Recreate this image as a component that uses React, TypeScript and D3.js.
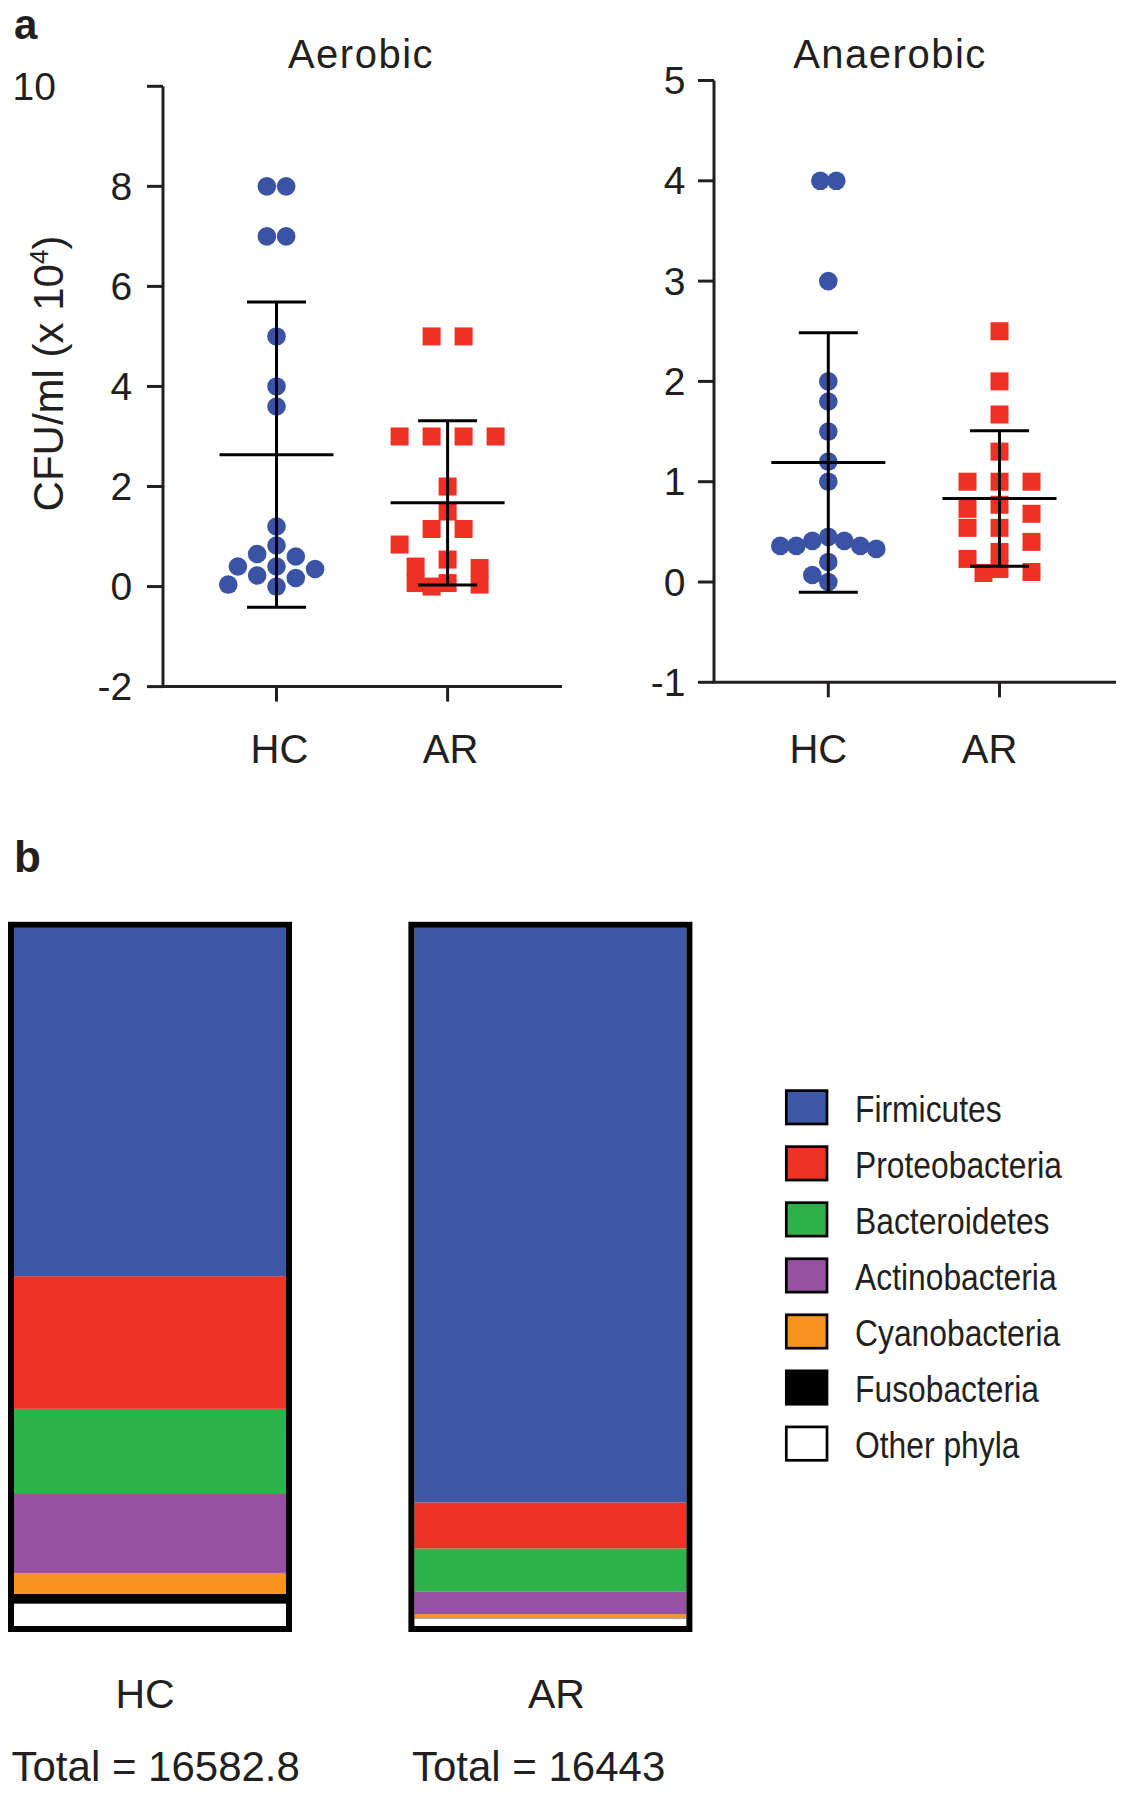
import React from "react";
import * as d3 from "d3";

// ---------- data ----------
const groups = ["HC", "AR"];

const aerobicHC = [8, 8, 7, 7, 5, 4, 3.6, 1.2, 0.82, 0.65, 0.6, 0.4, 0.4, 0.35, 0.22, 0.17, 0.04, 0];
const aerobicAR = [5, 5, 3, 3, 3, 3, 2, 1.5, 1.15, 1.15, 0.84, 0.54, 0.4, 0.37, 0.07, 0.07, 0.04, 0];
const anaerobicHC = [4, 4, 3, 2, 1.8, 1.5, 1.2, 1.0, 0.45, 0.41, 0.41, 0.36, 0.36, 0.36, 0.33, 0.2, 0.07, 0];
const anaerobicAR = [2.5, 2.0, 1.67, 1.3, 1.0, 1.0, 1.0, 0.77, 0.73, 0.68, 0.54, 0.54, 0.4, 0.3, 0.23, 0.13, 0.1, 0.09];

const aerobicTicks = [-2, 0, 2, 4, 6, 8, 10];
const anaerobicTicks = [-1, 0, 1, 2, 3, 4, 5];

const phyla = ["Firmicutes", "Proteobacteria", "Bacteroidetes", "Actinobacteria", "Cyanobacteria", "Fusobacteria", "Other phyla"];
const phylumColors = ["#3D58A7", "#EE3324", "#2FB14B", "#9652A1", "#F7941D", "#000000", "#FFFFFF"];
const hcAbundance = [49.9, 19.0, 12.2, 11.3, 3.0, 1.4, 3.2];
const arAbundance = [82.3, 6.6, 6.2, 3.2, 0.5, 0.1, 1.1];
const totals = [16582.8, 16443];

// ---------- style ----------
const FONT = "'Liberation Sans', Arial, Helvetica, sans-serif";
const INK = "#231F20";
const BLUE = "#3A53A4";
const RED = "#EE3124";

type Pt = { x: number; y: number; v: number };

function swarm(values: number[], y: (v: number) => number, step: number, minDist: number, square: boolean, maxSteps: number): Pt[] {
  const sorted = [...values].sort((a, b) => b - a);
  const grouped: number[][] = [];
  for (const v of sorted) {
    const g = grouped[grouped.length - 1];
    if (g && g[0] === v) g.push(v);
    else grouped.push([v]);
  }
  const placed: Pt[] = [];
  const overlap = (x: number, yy: number) => {
    let worst = 0;
    for (const q of placed) {
      let o = 0;
      if (square) {
        const ox = minDist - Math.abs(q.x - x);
        const oy = minDist - Math.abs(q.y - yy);
        o = ox > 0 && oy > 0 ? Math.min(ox, oy) : 0;
      } else {
        o = Math.max(0, minDist - Math.hypot(q.x - x, q.y - yy));
      }
      worst = Math.max(worst, o);
    }
    return worst;
  };
  const shifts = (k: number) =>
    d3.range(k).map((i) => (i === 0 ? 0 : (i % 2 ? -1 : 1) * Math.ceil(i / 2)) * step);
  for (const g of grouped) {
    const yy = y(g[0]);
    const base = g.map((_, i) => (i - (g.length - 1) / 2) * 2 * step);
    let done = false;
    if (g.length > 1) {
      for (const s of shifts(3)) {
        const xs = base.map((b) => b + s);
        if (xs.every((x) => overlap(x, yy) === 0)) {
          xs.forEach((x) => placed.push({ x, y: yy, v: g[0] }));
          done = true;
          break;
        }
      }
    }
    if (!done) {
      for (const v of g) {
        const cands = shifts(2 * maxSteps + 1);
        let best = cands[0];
        let bestO = Infinity;
        for (const s of cands) {
          const o = overlap(s, yy);
          if (o < bestO - 1e-9) {
            bestO = o;
            best = s;
          }
          if (o === 0) break;
        }
        placed.push({ x: best, y: yy, v });
      }
    }
  }
  return placed;
}

type PanelProps = {
  title: string;
  data: number[][];
  domain: [number, number];
  ticks: number[];
  yRange: [number, number];
  axisX: number;
  axisEnd: number;
  xRange: [number, number];
  titleX: number;
  tickLabelRight: number;
  topLabelRight: number;
  labelDx: number;
  circleStep: number;
  circleMin: number;
  circleMaxSteps: number;
};

function ScatterPanel(p: PanelProps) {
  const y = d3.scaleLinear().domain(p.domain).range(p.yRange);
  const x = d3.scalePoint().domain(groups).range(p.xRange);
  const yBottom = p.yRange[0];
  const yTop = p.yRange[1];
  const r = 9.3;
  const sq = 18;
  const hcPts = swarm(p.data[0], y, p.circleStep, p.circleMin, false, p.circleMaxSteps);
  const arPts = swarm(p.data[1], y, 16, 17, true, 3);
  const stats = p.data.map((d) => ({ m: d3.mean(d) as number, s: d3.deviation(d) as number }));
  const topTick = p.ticks[p.ticks.length - 1];
  return (
    <g>
      <text x={p.titleX} y={68} textAnchor="middle" fontSize={40} letterSpacing={1.5} fill={INK} fontFamily={FONT}>
        {p.title}
      </text>
      {/* y axis */}
      <line x1={p.axisX} x2={p.axisX} y1={yTop} y2={yBottom} stroke={INK} strokeWidth={3} />
      {p.ticks.map((t) => (
        <g key={t}>
          <line x1={p.axisX - 16} x2={p.axisX} y1={y(t)} y2={y(t)} stroke={INK} strokeWidth={3} />
          <text
            x={t === topTick ? p.topLabelRight : p.tickLabelRight}
            y={y(t)}
            dy="0.35em"
            textAnchor="end"
            fontSize={39}
            fill={INK}
            fontFamily={FONT}
          >
            {t}
          </text>
        </g>
      ))}
      {/* x axis */}
      <line x1={p.axisX - 1.5} x2={p.axisEnd} y1={yBottom} y2={yBottom} stroke={INK} strokeWidth={3} />
      {groups.map((g) => (
        <g key={g}>
          <line x1={x(g)} x2={x(g)} y1={yBottom} y2={yBottom + 15} stroke={INK} strokeWidth={3} />
          <text x={(x(g) as number) + p.labelDx} y={763} textAnchor="middle" fontSize={40} fill={INK} fontFamily={FONT}>
            {g}
          </text>
        </g>
      ))}
      {/* points */}
      {hcPts.map((q, i) => (
        <circle key={"c" + i} cx={(x("HC") as number) + q.x} cy={q.y} r={r} fill={BLUE} />
      ))}
      {arPts.map((q, i) => (
        <rect key={"s" + i} x={(x("AR") as number) + q.x - sq / 2} y={q.y - sq / 2} width={sq} height={sq} fill={RED} />
      ))}
      {/* mean ± SD */}
      {groups.map((g, i) => {
        const cx = x(g) as number;
        const { m, s } = stats[i];
        return (
          <g key={"e" + g} stroke="#000" strokeWidth={3}>
            <line x1={cx} x2={cx} y1={y(m - s)} y2={y(m + s)} />
            <line x1={cx - 29.5} x2={cx + 29.5} y1={y(m + s)} y2={y(m + s)} />
            <line x1={cx - 29.5} x2={cx + 29.5} y1={y(m - s)} y2={y(m - s)} />
            <line x1={cx - 57} x2={cx + 57} y1={y(m)} y2={y(m)} />
          </g>
        );
      })}
    </g>
  );
}

function BarPanel() {
  const x = d3.scalePoint().domain(groups).range([150, 550.4]);
  const y = d3.scaleLinear().domain([0, 100]).range([1626, 927.8]);
  const rows = groups.map((g, gi) => {
    const vals = gi === 0 ? hcAbundance : arAbundance;
    const o: Record<string, any> = { group: g };
    phyla.forEach((ph, i) => (o[ph] = vals[i]));
    return o;
  });
  const keys = [...phyla].reverse();
  const stack = d3.stack<any>().keys(keys)(rows);
  const boxW = 278;
  const inner = boxW - 6;
  const labelDx = [-5, 6];
  return (
    <g>
      {stack.map((layer) => {
        const ci = phyla.indexOf(layer.key);
        return layer.map((seg, gi) => {
          const cx = x(groups[gi]) as number;
          return (
            <rect
              key={layer.key + gi}
              x={cx - inner / 2}
              y={y(seg[1])}
              width={inner}
              height={Math.max(0, y(seg[0]) - y(seg[1]))}
              fill={phylumColors[ci]}
            />
          );
        });
      })}
      {groups.map((g, gi) => {
        const cx = x(g) as number;
        return (
          <g key={"b" + g}>
            <rect x={cx - boxW / 2} y={924.8} width={boxW} height={704.2} fill="none" stroke="#000" strokeWidth={6} />
            <text x={cx + labelDx[gi]} y={1708} textAnchor="middle" fontSize={41} fill={INK} fontFamily={FONT}>
              {g}
            </text>
            <text x={cx - boxW / 2 + 0.5} y={1781} textAnchor="start" fontSize={42} fill={INK} fontFamily={FONT}>
              {`Total = ${totals[gi]}`}
            </text>
          </g>
        );
      })}
      {/* legend */}
      {phyla.map((ph, i) => {
        const top = 1089.3 + i * 56.05;
        return (
          <g key={"l" + ph}>
            <rect x={786.3} y={top + 1.3} width={40.7} height={33.4} fill={phylumColors[i]} stroke="#000" strokeWidth={2.7} />
            <g transform={`translate(855, ${top + 32.5}) scale(0.86, 1)`}>
              <text x={0} y={0} fontSize={37} fill={INK} fontFamily={FONT}>
                {ph}
              </text>
            </g>
          </g>
        );
      })}
    </g>
  );
}

export default function App() {
  return (
    <svg
      width={1125}
      height={1800}
      viewBox="0 0 1125 1800"
      style={{ position: "absolute", left: 0, top: 0, background: "#fff", display: "block" }}
    >
      <rect x={0} y={0} width={1125} height={1800} fill="#fff" />
      <text x={14} y={39} fontSize={42} fontWeight="bold" fill={INK} fontFamily={FONT}>
        a
      </text>
      <text x={14} y={872} fontSize={44} fontWeight="bold" fill={INK} fontFamily={FONT}>
        b
      </text>
      <text transform="translate(63, 373.5) rotate(-90)" textAnchor="middle" fontSize={42} fill={INK} fontFamily={FONT}>
        <tspan>CFU/ml (x 10</tspan>
        <tspan fontSize={26} dy={-15}>4</tspan>
        <tspan dy={15}>)</tspan>
      </text>
      <ScatterPanel
        title="Aerobic"
        data={[aerobicHC, aerobicAR]}
        domain={[-2, 10]}
        ticks={aerobicTicks}
        yRange={[686.6, 86.3]}
        axisX={163}
        axisEnd={562}
        xRange={[276.5, 447.6]}
        titleX={361}
        tickLabelRight={132.3}
        topLabelRight={56}
        labelDx={3}
        circleStep={9.65}
        circleMin={18.5}
        circleMaxSteps={5}
      />
      <ScatterPanel
        title="Anaerobic"
        data={[anaerobicHC, anaerobicAR]}
        domain={[-1, 5]}
        ticks={anaerobicTicks}
        yRange={[682.3, 80.5]}
        axisX={714}
        axisEnd={1116}
        xRange={[828.3, 999.5]}
        titleX={890}
        tickLabelRight={685.5}
        topLabelRight={685.5}
        labelDx={-10}
        circleStep={8}
        circleMin={16}
        circleMaxSteps={6}
      />
      <BarPanel />
    </svg>
  );
}
